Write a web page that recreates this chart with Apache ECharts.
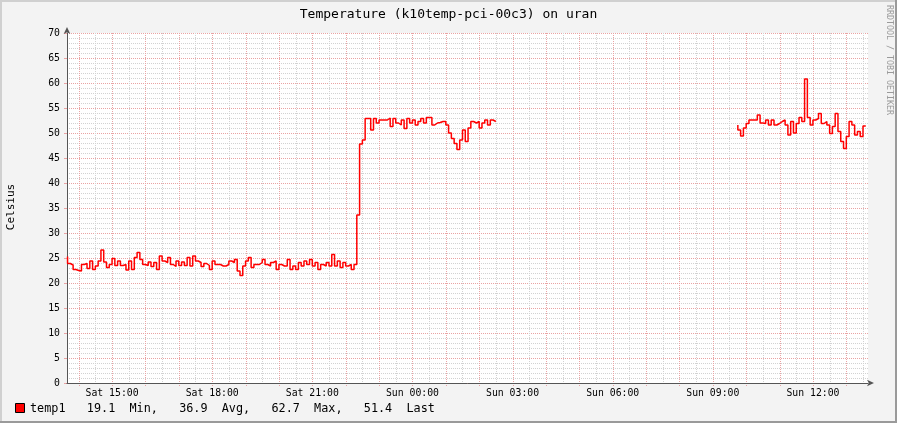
<!DOCTYPE html>
<html><head><meta charset="utf-8">
<script src="https://cdn.jsdelivr.net/npm/echarts@6/dist/echarts.min.js"></script>
<style>html,body{margin:0;padding:0;background:#f3f3f3}#c{width:897px;height:423px}</style>
</head><body><div id="c"></div>
<script>
// minutes counted from Sat 00:00, 5-minute samples
const stepMinutes = 5;
const axisStartMinute = 819;   // Sat 13:39
const axisEndMinute = 2259;    // Sun 13:39
const segAStart = 820;         // Sat 13:40
const segAValues = [
  25.3,23.9,23.6,22.7,22.5,22.4,23.7,23.9,22.9,24.4,
  22.7,23.4,24.4,26.6,24.2,23.1,23.7,24.9,23.5,24.4,
  23.5,23.7,22.6,24.4,22.7,25.1,26.1,24.7,23.7,23.5,
  24.2,23.3,24.1,22.7,25.4,24.4,24.1,25.1,23.7,23.3,
  24.4,23.5,24.2,23.5,25.1,23.4,25.4,24.4,24.1,23.3,
  23.9,23.5,
  22.7,24.4,23.7,23.7,23.4,23.4,23.7,24.4,24.1,24.7,
  22.4,21.5,23.4,24.4,25.1,23.1,23.7,23.7,24.1,24.7,
  23.7,23.4,24.1,24.4,22.7,23.7,23.4,23.4,24.7,22.7,
  23.4,22.7,24.1,23.4,24.4,23.7,24.7,23.4,24.1,22.7,
  23.7,23.4,24.1,23.4,25.7,23.4,24.4,23.1,24.1,23.4,
  23.7,22.7,23.7,
  33.6,47.8,48.6,
  52.9,52.9,50.6,52.9,52.0,52.6,52.6,52.6,53.0,51.3,
  52.9,52.0,51.6,52.6,50.9,52.9,52.0,52.6,51.6,52.3,
  52.9,52.0,53.1,53.1,51.6,52.0,52.1,52.3,52.3,51.6,
  50.0,48.9,47.9,46.7,48.6,50.6,48.3,51.0,52.3,52.0,
  52.3,51.0,52.0,52.6,51.6,52.6,52.3
];
const segBStart = 2025;        // Sun 09:45
const segBValues = [
  51.6,50.6,49.4,51.0,51.9,52.6,52.6,52.6,53.6,52.0,
  51.9,52.6,51.6,52.6,51.6,51.9,52.3,52.6,51.6,49.6,
  52.3,50.0,51.9,53.1,52.3,60.8,53.1,51.6,52.6,52.9,
  53.9,51.9,52.3,51.6,49.9,51.3,53.9,50.3,48.3,46.9,
  49.3,52.3,51.6,49.6,50.3,49.3,51.4
];
const xLabelMinutes = [900,1080,1260,1440,1620,1800,1980,2160];
const hourMinutes = [840,900,960,1020,1080,1140,1200,1260,1320,1380,1440,1500,1560,1620,1680,1740,1800,1860,1920,1980,2040,2100,2160,2220];
const halfHourMinutes = [870,930,990,1050,1110,1170,1230,1290,1350,1410,1470,1530,1590,1650,1710,1770,1830,1890,1950,2010,2070,2130,2190,2250];
const titleText = 'Temperature (k10temp-pci-00c3) on uran';
const yAxisName = 'Celsius';
const legendName = 'temp1';
const legendStats = ['19.1','Min,','36.9','Avg,','62.7','Max,','51.4','Last'];

const dataA = segAValues.map((v,i)=>[segAStart+i*stepMinutes, v]);
const dataB = segBValues.map((v,i)=>[segBStart+i*stepMinutes, v]);

const mono = 'DejaVu Sans Mono';
const majorColor = '#eaa3a3';
const minorColor = '#d2d2d2';
const lineColor = '#ff0000';
function fmtTime(v){
  const day = v < 1440 ? 'Sat' : 'Sun';
  const h = Math.floor(v/60)%24;
  return day + ' ' + String(h).padStart(2,'0') + ':00';
}
const legendLine = legendName + '   ' + legendStats[0] + '  ' + legendStats[1] + '   ' + legendStats[2] + '  ' + legendStats[3] + '   ' + legendStats[4] + '  ' + legendStats[5] + '   ' + legendStats[6] + '  ' + legendStats[7];

function vGrid(color, tickLen){
  return function(params, api){
    const m = api.value(0);
    const top = api.coord([m, 70]);
    const bot = api.coord([m, 0]);
    const x = Math.round(top[0]) + 0.5;
    return {type:'line', shape:{x1:x,y1:top[1],x2:x,y2:bot[1]+tickLen},
      style:{stroke:color,lineWidth:1,lineDash:[1,1]}, silent:true};
  };
}

const chart = echarts.init(document.getElementById('c'), null, {renderer:'canvas'});
chart.setOption({
  animation:false,
  backgroundColor:'#f3f3f3',
  title:{text:titleText,left:'center',top:3,textStyle:{fontFamily:mono,fontSize:13,fontWeight:'normal',color:'#000'}},
  grid:{left:67,right:29,top:33,bottom:40,show:true,backgroundColor:'#ffffff',borderWidth:0},
  xAxis:{
    type:'value',min:axisStartMinute,max:axisEndMinute,
    axisLine:{show:true,lineStyle:{color:'#555',width:1},symbol:['none','arrow'],symbolSize:[5,7],symbolOffset:[0,6]},
    axisTick:{show:false},
    axisLabel:{customValues:xLabelMinutes,formatter:fmtTime,fontFamily:mono,fontSize:9.8,color:'#000',margin:5},
    splitLine:{show:false},
    z:3
  },
  yAxis:{
    type:'value',min:0,max:70,interval:5,
    axisLine:{show:true,lineStyle:{color:'#555',width:1},symbol:['none','arrow'],symbolSize:[5,7],symbolOffset:[0,6]},
    axisTick:{show:true,length:3,lineStyle:{color:majorColor}},
    minorTick:{show:false,splitNumber:5},
    minorSplitLine:{show:true,lineStyle:{color:minorColor,type:[1,1],width:1}},
    axisLabel:{fontFamily:mono,fontSize:9.8,color:'#000',margin:7},
    splitLine:{show:true,lineStyle:{color:majorColor,type:[1,1],width:1}}
  },
  series:[
    {type:'custom',data:halfHourMinutes.map(m=>[m]),encode:{x:0},renderItem:vGrid(minorColor,0),z:1,silent:true,clip:false},
    {type:'custom',data:hourMinutes.map(m=>[m]),encode:{x:0},renderItem:vGrid(majorColor,3),z:2,silent:true,clip:false},
    {type:'line',data:dataA,step:'start',symbol:'none',lineStyle:{color:lineColor,width:1.5},z:5},
    {type:'line',data:dataB,step:'start',symbol:'none',lineStyle:{color:lineColor,width:1.5},z:5}
  ],
  graphic:[
    {type:'rect',shape:{x:0,y:0,width:897,height:2},style:{fill:'#d0d0d0'},silent:true},
    {type:'rect',shape:{x:0,y:0,width:2,height:423},style:{fill:'#d0d0d0'},silent:true},
    {type:'rect',shape:{x:0,y:421,width:897,height:2},style:{fill:'#9a9a9a'},silent:true},
    {type:'rect',shape:{x:895,y:0,width:2,height:423},style:{fill:'#9a9a9a'},silent:true},
    {type:'text',x:11,y:207,rotation:Math.PI/2,style:{text:yAxisName,fontFamily:mono,fontSize:11,fill:'#000',align:'center',verticalAlign:'middle'}},
    {type:'text',x:889,y:60,rotation:-Math.PI/2,style:{text:'RRDTOOL / TOBI OETIKER',fontFamily:mono,fontSize:8.3,fill:'#9a9a9a',align:'center',verticalAlign:'middle'}},
    {type:'rect',shape:{x:15.5,y:403.5,width:9,height:9},style:{fill:'#ff0000',stroke:'#000',lineWidth:1}},
    {type:'text',x:30,y:409,style:{text:legendLine,fontFamily:mono,fontSize:11.8,fill:'#000',align:'left',verticalAlign:'middle'}}
  ]
});
</script></body></html>
